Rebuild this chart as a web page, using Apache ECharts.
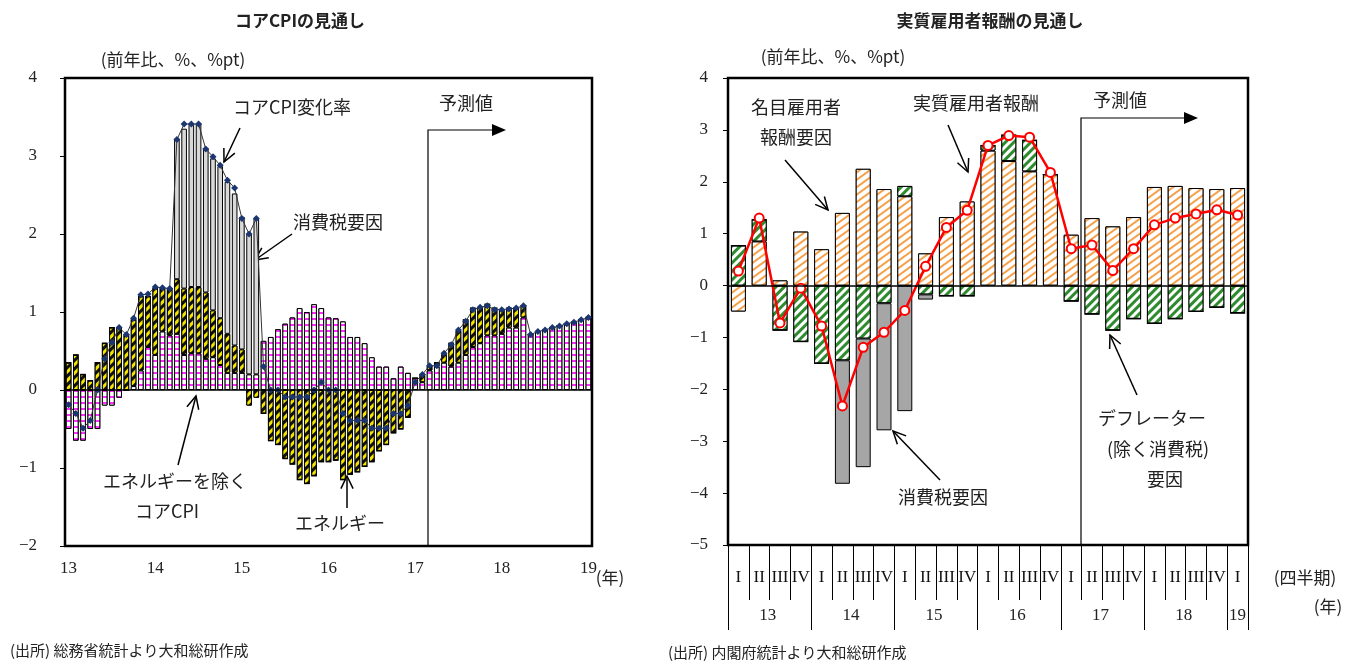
<!DOCTYPE html>
<html><head><meta charset="utf-8">
<script src="https://cdn.jsdelivr.net/npm/echarts@6/dist/echarts.min.js"></script>
<style>html,body{margin:0;padding:0;background:#fff}#c{width:1352px;height:662px}</style>
</head><body><div id="c"></div>
<script>
// ---- Left chart data (monthly, 2013-01 .. 2019-01)
const months = [];
for (let y = 13; y <= 19; y++) for (let m = 1; m <= 12; m++) { if (y === 19 && m > 1) break; months.push(y + '-' + m); }
const coreCPI = [-0.19,-0.3,-0.49,-0.39,0,0.4,0.61,0.8,0.71,0.92,1.22,1.23,
 1.32,1.31,1.3,3.21,3.41,3.41,3.41,3.09,2.99,2.88,2.69,2.59,
 2.2,2.0,2.2,0.3,0,0,-0.09,-0.09,-0.09,-0.09,0,0.1,
 0,0,-0.3,-0.39,-0.39,-0.39,-0.49,-0.49,-0.49,-0.3,-0.3,-0.2,
 0.1,0.2,0.31,0.31,0.47,0.58,0.77,0.88,1.03,1.06,1.08,1.03,
 1.03,1.04,1.05,1.08,0.71,0.75,0.77,0.8,0.82,0.85,0.87,0.9,0.93];
const coreExEnergy = [-0.5,-0.65,-0.65,-0.5,-0.5,-0.2,-0.2,-0.1,0,0.05,0.25,0.55,
 0.45,0.75,0.7,0.72,0.45,0.47,0.47,0.4,0.42,0.32,0.22,0.22,
 0.22,0.2,0.2,0.63,0.68,0.78,0.85,0.93,1.05,1.0,1.1,1.05,
 0.93,0.92,0.88,0.68,0.68,0.6,0.42,0.3,0.3,0.15,0.3,0.22,
 0.15,0.1,0.25,0.3,0.35,0.3,0.35,0.45,0.55,0.6,0.7,0.7,
 0.72,0.8,0.8,0.93,0.71,0.75,0.77,0.8,0.82,0.85,0.87,0.9,0.93];
const energy = [0.35,0.45,0.2,0.12,0.35,0.6,0.8,0.8,0.7,0.85,0.95,0.65,
 0.85,0.55,0.6,0.7,0.85,0.85,0.85,0.85,0.6,0.6,0.5,0.35,
 0.3,-0.2,-0.1,-0.3,-0.65,-0.7,-0.88,-0.95,-1.15,-1.2,-1.1,-0.92,
 -0.92,-0.9,-1.15,-1.08,-1.05,-0.98,-0.92,-0.78,-0.7,-0.55,-0.5,-0.35,
 0,0.1,0.05,0.05,0.1,0.3,0.4,0.45,0.5,0.45,0.4,0.35,
 0.3,0.25,0.25,0.15,0,0,0,0,0,0,0,0,0];
const taxL = [0,0,0,0,0,0,0,0,0,0,0,0,
 0,0,0,1.8,2.05,2.1,2.1,1.85,1.95,1.95,1.95,1.95,
 1.7,1.8,2.0,0,0,0,0,0,0,0,0,0,
 0,0,0,0,0,0,0,0,0,0,0,0,0,0,0,0,0,0,0,0,0,0,0,0,0,0,0,0,0,0,0,0,0,0,0,0,0];
const leftYears = ['13','14','15','16','17','18','19'];

// ---- Right chart data (quarterly, 2013Q1 .. 2019Q1)
const quarters = ['I','II','III','IV'];
const qCats = []; for (let i = 0; i < 25; i++) qCats.push(quarters[i % 4]);
const qYears = ['13','14','15','16','17','18','19'];
const realComp = [0.28,1.3,-0.72,-0.05,-0.78,-2.32,-1.19,-0.9,-0.48,0.37,1.12,1.45,2.7,2.89,2.86,2.18,0.71,0.78,0.29,0.71,1.17,1.3,1.38,1.46,1.36];
const nominal = [-0.5,0.85,0.1,1.04,0.7,1.4,2.25,1.86,1.72,0.62,1.32,1.62,2.6,2.4,2.2,2.14,0.98,1.3,1.14,1.32,1.9,1.92,1.88,1.86,1.88];
const deflator = [0.77,0.42,-0.86,-1.08,-1.5,-1.44,-1.02,-0.34,0.2,-0.17,-0.2,-0.2,0.1,0.5,0.6,0,-0.3,-0.55,-0.86,-0.64,-0.73,-0.64,-0.5,-0.42,-0.53];
const taxR = [0,0,0,0,0,-2.38,-2.48,-2.45,-2.42,-0.1,0,0,0,0,0,0,0,0,0,0,0,0,0,0,0];

const JP = '"Noto Sans CJK JP", sans-serif';
const SERIF = '"Liberation Serif", "DejaVu Serif", serif';
const minus = v => (v < 0 ? '−' + Math.abs(v) : '' + v);

const chart = echarts.init(document.getElementById('c'));
const G = [];
function T(x, y, s, size, weight, align) { G.push({type:'text', x:x, y:y, style:{text:s, fontFamily:JP, fontSize:size||17, fontWeight:weight||'normal', fill:'#222', textAlign:align||'center', textVerticalAlign:'middle'}}); }
function arrow(x1, y1, x2, y2) {
  G.push({type:'line', shape:{x1,y1,x2,y2}, style:{stroke:'#000', lineWidth:1.5}});
  const a = Math.atan2(y2 - y1, x2 - x1), L = 14, s = 0.45;
  G.push({type:'polyline', shape:{points:[[x2 - L*Math.cos(a - s), y2 - L*Math.sin(a - s)], [x2, y2], [x2 - L*Math.cos(a + s), y2 - L*Math.sin(a + s)]]}, style:{stroke:'#000', lineWidth:1.5, fill:null}});
}
function forecast(x, yb, yt, xe) {
  G.push({type:'polyline', shape:{points:[[x, yb],[x, yt],[xe - 12, yt]]}, style:{stroke:'#000', lineWidth:1.2, fill:null}});
  G.push({type:'polygon', shape:{points:[[xe - 14, yt - 6],[xe, yt],[xe - 14, yt + 6]]}, style:{fill:'#000'}});
}
// Left annotations
T(300, 21, 'コアCPIの見通し', 17, 'bold');
T(173, 60, '(前年比、%、%pt)', 17);
T(292, 107, 'コアCPI変化率', 18); arrow(240, 128, 224, 162);
T(338, 222, '消費税要因', 18); arrow(292, 234, 255, 260);
T(175, 481, 'エネルギーを除く', 18); T(167, 511, 'コアCPI', 18); arrow(178, 465, 196, 396);
T(340, 523, 'エネルギー', 18); arrow(347, 508, 347, 476);
T(466, 103, '予測値', 18); forecast(428, 546, 130, 506);
T(610, 578, '(年)', 17);
T(10, 650, '(出所) 総務省統計より大和総研作成', 15, 'normal', 'left');
// Right annotations
T(990, 21, '実質雇用者報酬の見通し', 17, 'bold');
T(833, 57, '(前年比、%、%pt)', 17);
T(796, 107, '名目雇用者', 18); T(796, 137, '報酬要因', 18); arrow(785, 160, 828, 210);
T(976, 103, '実質雇用者報酬', 18); arrow(948, 125, 968, 172);
T(1120, 100, '予測値', 18); forecast(1081, 545, 118, 1198);
T(943, 497, '消費税要因', 18); arrow(940, 480, 893, 431);
T(1152, 418, 'デフレーター', 18); T(1158, 449, '(除く消費税)', 18); T(1165, 479, '要因', 18); arrow(1137, 395, 1110, 335);
T(1305, 578, '(四半期)', 17); T(1328, 607, '(年)', 17);
T(668, 652, '(出所) 内閣府統計より大和総研作成', 15, 'normal', 'left');

const decal = (color, rot, dy, bg) => ({symbol:'rect', color:color, backgroundColor:bg, dashArrayX:[1,0], dashArrayY:dy, rotation:rot});
const border = {borderColor:'#000', borderWidth:1};

chart.setOption({
  animation: false,
  grid: [
    {left:65, top:78, width:527, height:468, show:true, borderColor:'#000', borderWidth:2.5, backgroundColor:'transparent'},
    {left:728, top:78, width:520, height:467, show:true, borderColor:'#000', borderWidth:2.5, backgroundColor:'transparent'}
  ],
  xAxis: [
    {type:'category', gridIndex:0, data:months, boundaryGap:true,
     axisLine:{onZero:false, lineStyle:{color:'#000'}}, axisTick:{show:false},
     axisLabel:{interval:0, color:'#222', fontFamily:SERIF, fontSize:17, margin:14,
       formatter:(v, i) => (i % 12 === 0 ? leftYears[i / 12] : '')}},
    {type:'category', gridIndex:1, data:qCats, position:'bottom',
     axisLine:{onZero:false, lineStyle:{color:'#000'}}, axisTick:{show:true, length:55, lineStyle:{color:'#000'}},
     axisLabel:{interval:0, color:'#111', fontFamily:SERIF, fontSize:17, margin:24}},
    {type:'category', gridIndex:1, data:qCats, position:'bottom',
     axisLine:{show:false, onZero:false}, axisTick:{show:true, length:85, interval:(i) => i % 4 === 0, lineStyle:{color:'#000'}},
     axisLabel:{interval:0, color:'#222', fontFamily:SERIF, fontSize:17, margin:62,
       formatter:(v, i) => (i === 24 ? '19' : (i % 4 === 1 ? '    ' + qYears[(i - 1) / 4] : ''))}}
  ],
  yAxis: [
    {type:'value', gridIndex:0, min:-2, max:4, interval:1, splitLine:{show:false},
     axisLine:{show:true, lineStyle:{color:'#000'}}, axisTick:{show:true, length:5},
     axisLabel:{color:'#222', fontFamily:SERIF, fontSize:17, margin:28, formatter:minus}},
    {type:'value', gridIndex:1, min:-5, max:4, interval:1, splitLine:{show:false},
     axisLine:{show:true, lineStyle:{color:'#000'}}, axisTick:{show:true, length:5},
     axisLabel:{color:'#222', fontFamily:SERIF, fontSize:17, margin:20, formatter:minus}}
  ],
  series: [
    {type:'bar', name:'エネルギーを除くコアCPI', xAxisIndex:0, yAxisIndex:0, stack:'L', data:coreExEnergy, barCategoryGap:'22%',
     itemStyle:Object.assign({color:'#ffffff', decal:decal('#ff30ff', 0, [2,4], '#ffffff')}, border),
     markLine:{silent:true, symbol:'none', label:{show:false}, lineStyle:{color:'#000', width:1.5, type:'solid'}, data:[{yAxis:0}]}},
    {type:'bar', name:'エネルギー', xAxisIndex:0, yAxisIndex:0, stack:'L', data:energy,
     itemStyle:Object.assign({color:'#f2e600', decal:decal('#111', -Math.PI/4, [3,3], '#f2e600')}, border)},
    {type:'bar', name:'消費税要因', xAxisIndex:0, yAxisIndex:0, stack:'L', data:taxL,
     itemStyle:Object.assign({color:'#d9d9d9'}, border)},
    {type:'line', name:'コアCPI変化率', xAxisIndex:0, yAxisIndex:0, data:coreCPI, symbol:'diamond', symbolSize:7,
     lineStyle:{color:'#333', width:1}, itemStyle:{color:'#1b3670'}},
    {type:'bar', name:'名目雇用者報酬要因', xAxisIndex:1, yAxisIndex:1, stack:'R', data:nominal, barCategoryGap:'28%',
     itemStyle:Object.assign({color:'#ffffff', decal:decal('#f5a04a', -Math.PI/5, [2,4], '#ffffff')}, border),
     markLine:{silent:true, symbol:'none', label:{show:false}, lineStyle:{color:'#000', width:1.5, type:'solid'}, data:[{yAxis:0}]}},
    {type:'bar', name:'デフレーター要因', xAxisIndex:1, yAxisIndex:1, stack:'R', data:deflator,
     itemStyle:Object.assign({color:'#ffffff', decal:decal('#2e8b2e', -Math.PI/4, [3,3], '#ffffff')}, border)},
    {type:'bar', name:'消費税要因', xAxisIndex:1, yAxisIndex:1, stack:'R', data:taxR,
     itemStyle:Object.assign({color:'#a6a6a6'}, border)},
    {type:'line', name:'実質雇用者報酬', xAxisIndex:1, yAxisIndex:1, data:realComp, symbol:'circle', symbolSize:9,
     lineStyle:{color:'#ff0000', width:2.5}, itemStyle:{color:'#ffffff', borderColor:'#ff0000', borderWidth:2}}
  ],
  graphic: G
});
</script></body></html>
